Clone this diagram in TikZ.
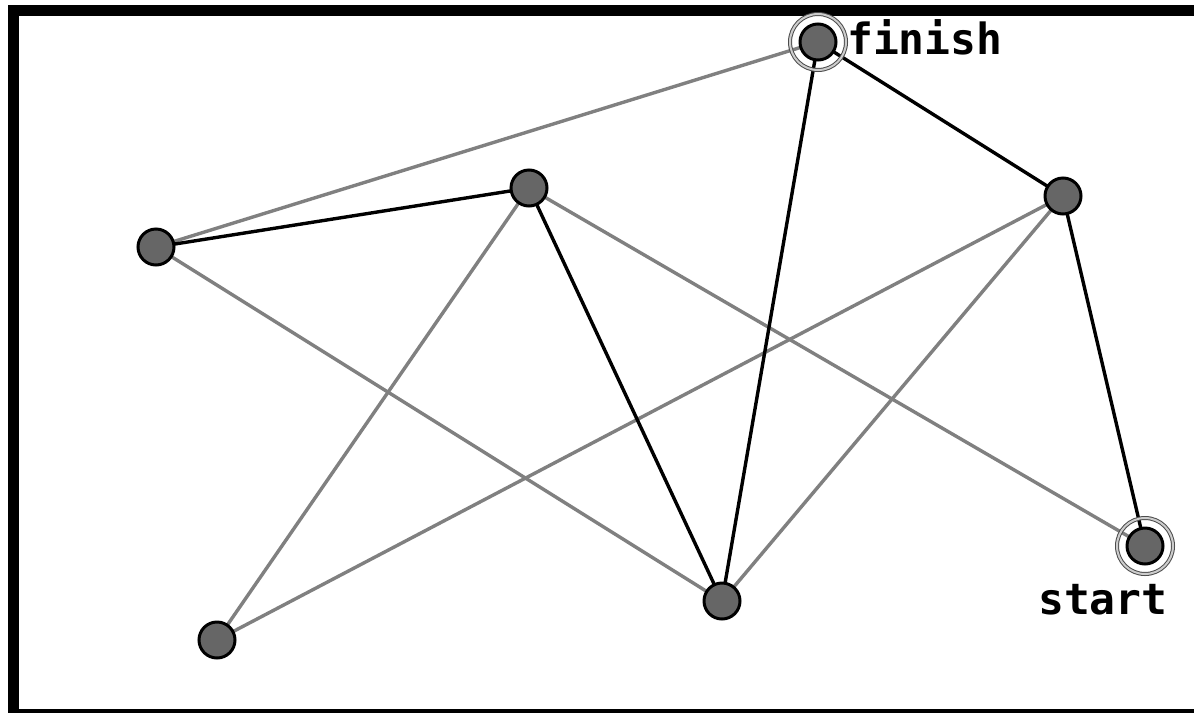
\documentclass[tikz,border=0pt]{standalone}
\usepackage{fontspec}
\newfontfamily\labelfont{DejaVu Sans Mono}
\begin{document}
\begin{tikzpicture}[x=1pt,y=-1pt,
  vertex/.style={circle,draw=black,line width=3pt,fill=black!60,minimum size=36pt,inner sep=0pt},
  ring/.style={circle,draw=black!70,line width=1pt,double=black!20,double distance=2pt,minimum size=56pt,inner sep=0pt},
  plain/.style={draw=black!50,line width=3.4pt},
  chosen/.style={draw=black,line width=3.4pt},
  tag/.style={font=\labelfont\bfseries\fontsize{43}{43}\selectfont,inner sep=0pt,anchor=base west}]
\useasboundingbox (0,0) rectangle (1194,713);
\fill[white] (0,0) rectangle (1194,713);
% open frame: left, top and bottom bars
\fill[black] (8,5) rectangle (19,713);
\fill[black] (8,5) rectangle (1194,16);
\fill[black] (8,709) rectangle (1194,713);

% vertices
\coordinate (f) at (818,42);
\coordinate (a) at (156,247);
\coordinate (b) at (529,188);
\coordinate (c) at (1063,196);
\coordinate (d) at (217,640);
\coordinate (e) at (722,601);
\coordinate (s) at (1145,546);

% edges not on the path
\draw[plain] (a) -- (f);
\draw[plain] (a) -- (e);
\draw[plain] (b) -- (d);
\draw[plain] (b) -- (s);
\draw[plain] (c) -- (d);
\draw[plain] (c) -- (e);
% edges on the path
\draw[chosen] (a) -- (b);
\draw[chosen] (b) -- (e);
\draw[chosen] (e) -- (f);
\draw[chosen] (f) -- (c);
\draw[chosen] (c) -- (s);

% rings for the end points
\node[ring] (fr) at (f) {};
\node[ring] (sr) at (s) {};

\foreach \v in {f,a,b,c,d,e,s} \node[vertex] (n\v) at (\v) {};

\node[tag] (ftag) at (847,54) {finish};
\node[tag] (stag) at (1038,614) {start};
\end{tikzpicture}
\end{document}
